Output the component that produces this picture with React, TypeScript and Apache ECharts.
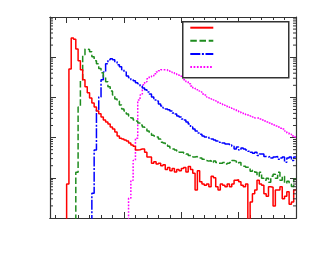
import React, { useEffect, useRef } from "react";
import * as echarts from "echarts";

// ---- axis ranges ----
const X_MIN = -14.5;
const X_MAX = 200;
const Y_MIN = 1;
const Y_MAX = 100000;
const BIN_START = 0;
const BIN_WIDTH = 2;
const FLOOR = 0.5; // empty bins drawn below the axis (clipped)

// ---- series ----
const SERIES_NAMES = ["h1", "h2", "h3", "h4"];
const SERIES_COLORS = ["#ff0000", "#1e8c1e", "#0000ff", "#ff00ff"];

const RED = [
  7, 5100, 30000, 28000, 16000, 8200, 4870, 2740, 1830, 1300,
  970, 730, 580, 460, 390, 325, 274, 244, 217, 183,
  163, 137, 109, 97, 92, 87, 82, 73, 65, 61,
  49, 50, 52, 52, 43, 33, 33, 23, 25, 22,
  23, 20, 21, 16, 18, 15, 17, 14, 16, 15,
  17, 18, 14, 19, 16, 13, 5, 15, 8, 7,
  6.5, 7, 6, 11, 10, 6, 5, 7, 6.5, 6,
  7, 6, 7, 8.7, 9, 8, 6.5, 6, 7, 0,
  2.5, 4, 5, 8.7, 7, 6.5, 4, 3.5, 6, 5.8,
  2, 5, 5, 6, 3, 3.5, 4.5, 2.2, 2.5, 5,
];

const GREEN = [
  0, 0, 0, 0, 13.7, 580, 2740, 11500, 16000, 15500,
  13600, 10300, 8200, 6900, 5200, 4100, 3060, 2440, 1830, 1450,
  1150, 915, 815, 650, 515, 460, 387, 345, 307, 274,
  258, 230, 205, 183, 172, 145, 129, 115, 109, 103,
  92, 77, 73, 65, 61, 55, 52, 49, 46, 43,
  43, 41, 39, 36, 36, 33, 34, 31, 31, 29,
  27, 26, 27, 24, 26, 24, 23, 23, 24, 22,
  23, 24, 27, 26, 23, 24, 20.5, 19.4, 18.3, 18.3,
  14.5, 15.4, 13.7, 10.9, 13.7, 9.7, 8.7, 9.7, 7.7, 10.9,
  12.2, 9.7, 13.7, 8.7, 10.9, 7.3, 8.2, 6.9, 6.1, 9.2,
];

const BLUE = [
  0, 0, 0, 0, 0, 0, 0, 0, 0, 0,
  0, 4.1, 49, 490, 1020, 2740, 4300, 6900, 8600, 9100,
  8600, 7700, 6500, 5800, 4870, 4300, 3400, 3060, 2740, 2590,
  2300, 2170, 1930, 1720, 1540, 1370, 1220, 1020, 860, 815,
  685, 610, 545, 515, 490, 460, 410, 387, 345, 325,
  290, 274, 244, 217, 183, 163, 145, 130, 122, 109,
  103, 103, 97, 92, 87, 82, 77, 73, 73, 69,
  69, 65, 61, 52, 58, 49, 55, 52, 49, 46,
  43, 41, 43, 36, 39, 39, 34, 33, 34, 31,
  33, 34, 29, 31, 33, 24.5, 31, 33, 27, 33,
];

const MAGENTA = [
  0, 0, 0, 0, 0, 0, 0, 0, 0, 0,
  0, 0, 0, 0, 0, 0, 0, 0, 0, 0,
  0, 0, 0, 0, 0, 0, 0, 3.1, 8.7, 27,
  97, 860, 1150, 2050, 2440, 2900, 3250, 3400, 3870, 4300,
  4600, 4870, 4870, 4870, 4600, 4300, 4100, 3870, 3650, 3400,
  3060, 2740, 2440, 2170, 1930, 1720, 1640, 1450, 1370, 1220,
  1150, 1020, 970, 915, 860, 815, 730, 685, 650, 610,
  580, 545, 515, 490, 460, 435, 410, 387, 365, 365,
  345, 325, 307, 307, 290, 274, 258, 244, 230, 217,
  205, 194, 183, 172, 163, 145, 130, 122, 109, 103,
];

const SERIES_VALUES = [RED, GREEN, BLUE, MAGENTA];
const SERIES_DASH: (number[] | "solid")[] = ["solid", [6.5, 2.7], [10, 1.6, 2, 1.6], [1.7, 1.6]];

const AXIS_COLOR = "#333";

function histPoints(values: number[]) {
  const pts: number[][] = [[BIN_START, FLOOR]];
  values.forEach((v, i) => {
    const y = v > 0 ? v : FLOOR;
    const x0 = BIN_START + i * BIN_WIDTH;
    pts.push([x0, y], [x0 + BIN_WIDTH, y]);
  });
  return pts;
}

function logMinorTicks() {
  const out: number[][] = [];
  for (let d = Math.log10(Y_MIN); d < Math.log10(Y_MAX); d++) {
    for (let k = 2; k <= 9; k++) out.push([X_MIN, k * Math.pow(10, d)]);
  }
  return out;
}

function xAxisDef(position: string, splitNumber: number, len: number) {
  return {
    type: "value",
    position,
    min: X_MIN,
    max: X_MAX,
    splitNumber,
    axisLine: { show: true, onZero: false, lineStyle: { color: AXIS_COLOR, width: 1.2 } },
    axisTick: { show: true, inside: true, length: len, lineStyle: { color: AXIS_COLOR, width: 1 } },
    axisLabel: { show: false },
    splitLine: { show: false },
  };
}

function yAxisDef(position: string) {
  return {
    type: "log",
    logBase: 10,
    position,
    min: Y_MIN,
    max: Y_MAX,
    axisLine: { show: true, onZero: false, lineStyle: { color: AXIS_COLOR, width: 1.2 } },
    axisTick: { show: true, inside: true, length: 6, lineStyle: { color: AXIS_COLOR, width: 1 } },
    axisLabel: { show: false },
    splitLine: { show: false },
  };
}

export default function App() {
  const ref = useRef<HTMLDivElement>(null);

  useEffect(() => {
    if (!ref.current) return;
    const chart = echarts.init(ref.current, null, { renderer: "svg" });

    const lineSeries = SERIES_NAMES.map((name, i) => ({
      name,
      type: "line",
      xAxisIndex: 0,
      yAxisIndex: 0,
      data: histPoints(SERIES_VALUES[i]),
      symbol: "none",
      showSymbol: false,
      clip: true,
      color: SERIES_COLORS[i],
      lineStyle: { color: SERIES_COLORS[i], width: 1.5, type: SERIES_DASH[i] },
      z: 2 + (3 - i) * 0.1,
    }));

    const minorSeries = {
      type: "custom",
      xAxisIndex: 0,
      yAxisIndex: 0,
      silent: true,
      data: logMinorTicks(),
      renderItem: (_p: any, api: any) => {
        const v = api.value(1);
        const l = api.coord([X_MIN, v]);
        const r = api.coord([X_MAX, v]);
        const st = { stroke: AXIS_COLOR, lineWidth: 1 };
        return {
          type: "group",
          children: [
            { type: "line", shape: { x1: l[0], y1: l[1], x2: l[0] + 3, y2: l[1] }, style: st },
            { type: "line", shape: { x1: r[0] - 3, y1: r[1], x2: r[0], y2: r[1] }, style: st },
          ],
        };
      },
      z: 3,
    };

    chart.setOption({
      animation: false,
      backgroundColor: "#ffffff",
      grid: { left: 50, top: 17, width: 246, height: 201, containLabel: false },
      xAxis: [
        xAxisDef("bottom", 21, 3),
        xAxisDef("bottom", 4, 6),
        xAxisDef("top", 21, 3),
        xAxisDef("top", 4, 6),
      ],
      yAxis: [yAxisDef("left"), yAxisDef("right")],
      legend: {
        data: SERIES_NAMES,
        orient: "vertical",
        left: 189.3,
        top: 22.7,
        padding: 0,
        itemWidth: 23,
        itemHeight: 10,
        itemGap: 4.1,
        selectedMode: false,
        formatter: () => "",
        textStyle: { fontSize: 10 },
        itemStyle: { color: "rgba(0,0,0,0)", borderWidth: 0, opacity: 0 },
        z: 10,
      },
      graphic: [
        {
          type: "rect",
          left: 182,
          top: 21,
          z: 8,
          shape: { width: 106, height: 56 },
          style: { fill: "#ffffff", stroke: AXIS_COLOR, lineWidth: 1.5 },
        },
      ],
      series: [...lineSeries, minorSeries],
    });

    return () => chart.dispose();
  }, []);

  return (
    <div
      ref={ref}
      style={{ position: "absolute", left: 0, top: 0, width: 313, height: 263 }}
    />
  );
}
